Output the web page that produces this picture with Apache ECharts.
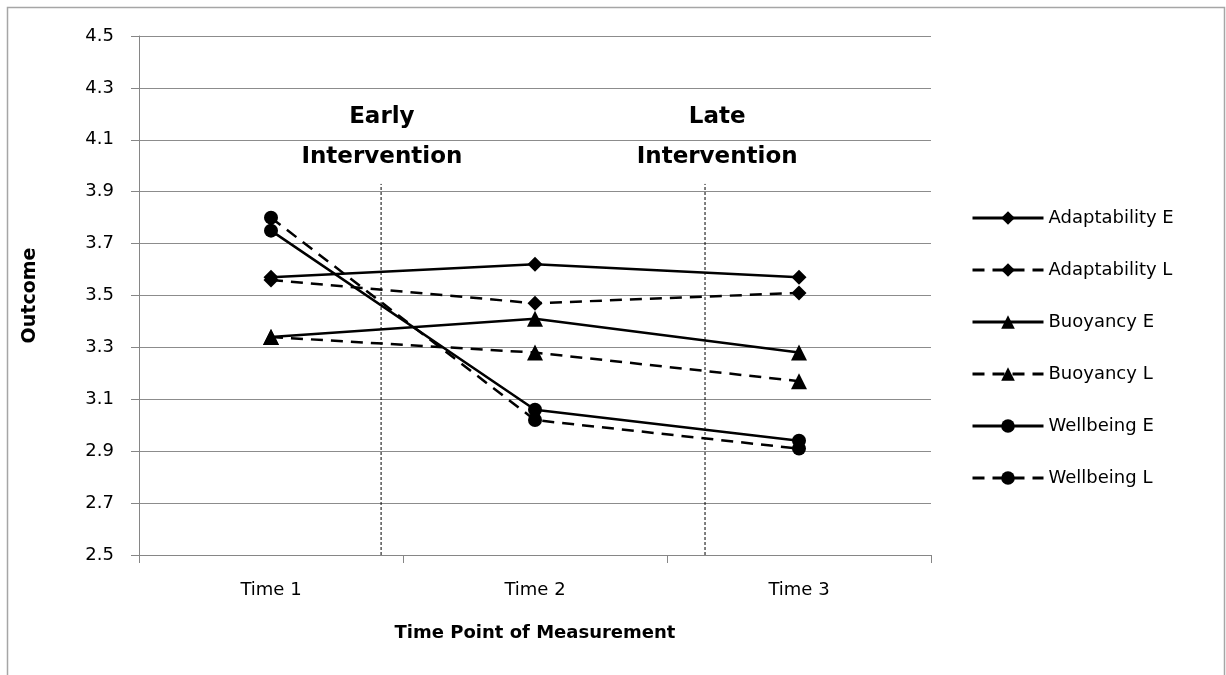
<!DOCTYPE html>
<html>
<head>
<meta charset="utf-8">
<script src="https://cdn.jsdelivr.net/npm/echarts@6/dist/echarts.min.js"></script>
<style>
html,body{margin:0;padding:0;background:#fff;}
#chart{width:1226px;height:675px;}
</style>
</head>
<body>
<div id="chart"></div>
<script>
const categories = ['Time 1', 'Time 2', 'Time 3'];
const adaptabilityE = [3.57, 3.62, 3.57];
const adaptabilityL = [3.56, 3.47, 3.51];
const buoyancyE = [3.34, 3.41, 3.28];
const buoyancyL = [3.34, 3.28, 3.17];
const wellbeingE = [3.75, 3.06, 2.94];
const wellbeingL = [3.80, 3.02, 2.91];
// intervention markers, in units of category span along the x axis (0..3)
const interventionLines = [0.917, 2.144];
const interventionTop = 3.93;
const interventionLabels = [
  {x: 0.92, text: 'Early\nIntervention'},
  {x: 2.19, text: 'Late\nIntervention'}
];

const FONT = 'DejaVu Sans';
const chart = echarts.init(document.getElementById('chart'), null, {renderer: 'canvas'});

function mkSeries(name, data, symbol, size, dashed) {
  return {
    name: name, type: 'line', data: data,
    xAxisIndex: 0, yAxisIndex: 0,
    symbol: symbol, symbolSize: size, showAllSymbol: true,
    lineStyle: {color: '#000', width: 2.5, type: dashed ? [12, 8] : 'solid'},
    itemStyle: {color: '#000', borderWidth: 0},
    emphasis: {disabled: true},
    animation: false, z: 3
  };
}

const series = [
  mkSeries('Adaptability E', adaptabilityE, 'diamond', 15, false),
  mkSeries('Adaptability L', adaptabilityL, 'diamond', 15, true),
  mkSeries('Buoyancy E', buoyancyE, 'triangle', 16, false),
  mkSeries('Buoyancy L', buoyancyL, 'triangle', 16, true),
  mkSeries('Wellbeing E', wellbeingE, 'circle', 14, false),
  mkSeries('Wellbeing L', wellbeingL, 'circle', 14, true)
];

interventionLines.forEach(function (x, i) {
  series.push({
    name: 'iv' + i, type: 'line', xAxisIndex: 1, yAxisIndex: 0,
    data: [[x, 2.5], [x, interventionTop]],
    symbol: 'none', lineStyle: {color: '#000', width: 1, type: [3, 2]},
    silent: true, animation: false, z: 1
  });
});
const labelStyle = {show: true, position: 'inside', fontFamily: FONT, fontWeight: 'bold', fontSize: 23,
  color: '#000', lineHeight: 40, align: 'center', textBorderWidth: 0, opacity: 1};
series.push({
  name: 'ivlabels', type: 'scatter', xAxisIndex: 1, yAxisIndex: 0,
  data: interventionLabels.map(function (d) {
    return {value: [d.x, 4.11], label: Object.assign({}, labelStyle, {formatter: d.text})};
  }),
  symbolSize: 0, silent: true, animation: false,
  itemStyle: {color: '#000', opacity: 1},
  label: labelStyle
});

chart.setOption({
  backgroundColor: '#fff',
  animation: false,
  textStyle: {fontFamily: FONT},
  grid: {left: 139, right: 295, top: 36, bottom: 120, containLabel: false},
  legend: {
    orient: 'vertical', left: 966, top: 204,
    data: ['Adaptability E', 'Adaptability L', 'Buoyancy E', 'Buoyancy L', 'Wellbeing E', 'Wellbeing L'],
    itemWidth: 71, itemHeight: 17, itemGap: 34,
    lineStyle: {width: 3},
    textStyle: {fontFamily: FONT, fontSize: 18, color: '#000', padding: [0, 0, 0, 0]},
    selectedMode: false
  },
  xAxis: [{
    type: 'category', data: categories, boundaryGap: true,
    axisLine: {lineStyle: {color: '#868686', width: 1}},
    axisTick: {show: true, length: 8, lineStyle: {color: '#868686'}},
    axisLabel: {fontFamily: FONT, fontSize: 18, color: '#000', margin: 26},
    name: 'Time Point of Measurement', nameLocation: 'middle', nameGap: 69,
    nameTextStyle: {fontFamily: FONT, fontSize: 18, fontWeight: 'bold', color: '#000'}
  }, {
    type: 'value', min: 0, max: 3, show: false
  }],
  yAxis: {
    type: 'value', min: 2.5, max: 4.5, interval: 0.2,
    axisLine: {show: true, lineStyle: {color: '#868686'}},
    axisTick: {show: true, length: 8, lineStyle: {color: '#868686'}},
    splitLine: {lineStyle: {color: '#8c8c8c', width: 1}},
    axisLabel: {fontFamily: FONT, fontSize: 18, color: '#000', margin: 25,
      formatter: function (v) { return v.toFixed(1); }},
    name: 'Outcome', nameLocation: 'middle', nameGap: 99,
    nameTextStyle: {fontFamily: FONT, fontSize: 19, fontWeight: 'bold', color: '#000'}
  },
  graphic: [{
    type: 'rect', shape: {x: 7.5, y: 7.5, width: 1217, height: 700},
    style: {fill: 'none', stroke: '#a6a6a6', lineWidth: 1.5}, silent: true, z: -1
  }],
  series: series
});
</script>
</body>
</html>
